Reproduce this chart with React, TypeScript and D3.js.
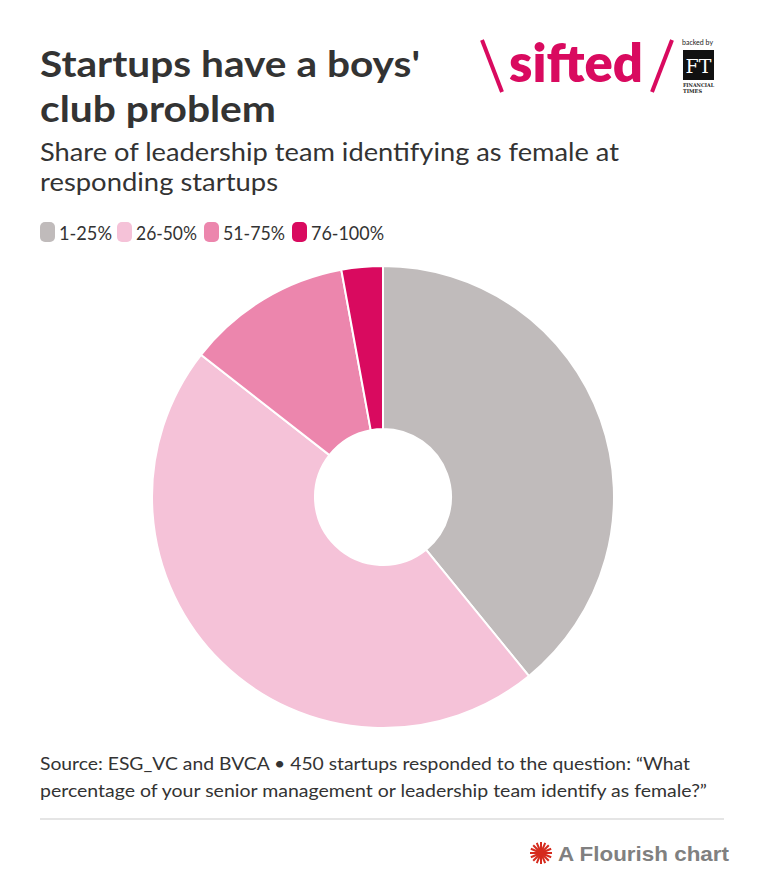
import React from "react";
import * as d3 from "d3";

const categories = ["1-25%", "26-50%", "51-75%", "76-100%"];
const values = [176, 209, 52, 13];
const colors = ["#c0bbbb", "#f5c2d8", "#ec86ad", "#d90a5f"];

const W = 764;
const H = 884;
const FONT = "Lato, 'Open Sans', sans-serif";

export default function App() {
  const cx = 383;
  const cy = 497;
  const outerR = 231;
  const innerR = 68;
  const pie = d3.pie<number>().sort(null).value((d) => d);
  const arcs = pie(values);
  const arcGen = d3
    .arc<d3.PieArcDatum<number>>()
    .innerRadius(innerR)
    .outerRadius(outerR);

  const legendItems = [
    { x: 40, tw: 53 },
    { x: 117, tw: 61 },
    { x: 204, tw: 62 },
    { x: 292, tw: 73 },
  ];

  return (
    <svg
      width={W}
      height={H}
      style={{ position: "absolute", left: 0, top: 0, background: "#fff" }}
      fontFamily={FONT}
    >
      <rect width={W} height={H} fill="#fff" />
      {/* Title */}
      <text x={40} y={77} fontSize={36} fontWeight={700} fill="#333" textLength={380} lengthAdjust="spacingAndGlyphs">
        Startups have a boys'
      </text>
      <text x={40} y={122} fontSize={36} fontWeight={700} fill="#333" textLength={236} lengthAdjust="spacingAndGlyphs">
        club problem
      </text>
      <text x={40} y={161} fontSize={25} fill="#333" textLength={579} lengthAdjust="spacingAndGlyphs">
        Share of leadership team identifying as female at
      </text>
      <text x={40} y={191} fontSize={25} fill="#333" textLength={238} lengthAdjust="spacingAndGlyphs">
        responding startups
      </text>

      {/* Logo */}
      <g>
        <line x1={482} y1={40} x2={502} y2={92} stroke="#d90a5f" strokeWidth={4} />
        <text x={509} y={82} fontSize={53} fontWeight={800} fill="#d90a5f" textLength={134} lengthAdjust="spacingAndGlyphs" fontFamily="Lato, sans-serif">
          sifted
        </text>
        <line x1={672} y1={40} x2={652} y2={92} stroke="#d90a5f" strokeWidth={4} />
        <text x={682} y={45} fontSize={8} fill="#222" textLength={31} lengthAdjust="spacingAndGlyphs">
          backed by
        </text>
        <rect x={683} y={50} width={31} height={30} fill="#111" />
        <text x={698.5} y={73} fontSize={19} fill="#fff" textAnchor="middle" fontFamily="'DejaVu Serif', serif">
          FT
        </text>
        <text x={683} y={87} fontSize={5} fontWeight={700} fill="#222" fontFamily="'DejaVu Serif', serif" textLength={31} lengthAdjust="spacingAndGlyphs">
          FINANCIAL
        </text>
        <text x={683} y={93} fontSize={5} fontWeight={700} fill="#222" fontFamily="'DejaVu Serif', serif">
          TIMES
        </text>
      </g>

      {/* Legend */}
      {categories.map((c, i) => (
        <g key={c} transform={`translate(${legendItems[i].x},222)`}>
          <rect x={0} y={0} width={15} height={20} rx={5} fill={colors[i]} />
          <text x={19} y={18} fontSize={19} fill="#333" textLength={legendItems[i].tw} lengthAdjust="spacingAndGlyphs">
            {c}
          </text>
        </g>
      ))}

      {/* Donut */}
      <g transform={`translate(${cx},${cy})`}>
        {arcs.map((a, i) => (
          <path key={i} d={arcGen(a) || ""} fill={colors[i]} stroke="#fff" strokeWidth={2} />
        ))}
      </g>

      {/* Footer */}
      <text x={40} y={770} fontSize={18} fill="#333" textLength={650} lengthAdjust="spacingAndGlyphs">
        Source: ESG_VC and BVCA • 450 startups responded to the question: “What
      </text>
      <text x={40} y={797} fontSize={18} fill="#333" textLength={667} lengthAdjust="spacingAndGlyphs">
        percentage of your senior management or leadership team identify as female?”
      </text>
      <line x1={40} y1={819} x2={724} y2={819} stroke="#dddddd" strokeWidth={1.5} />

      {/* Flourish */}
      <g transform="translate(541,853)">
        {d3.range(16).map((k) => {
          const ang = (k / 16) * Math.PI * 2;
          return (
            <line
              key={k}
              x1={0}
              y1={0}
              x2={Math.cos(ang) * 11}
              y2={Math.sin(ang) * 11}
              stroke="#d52b1e"
              strokeWidth={2}
            />
          );
        })}
        <circle r={4} fill="#d52b1e" />
      </g>
      <text x={558} y={861} fontSize={21} fontWeight={700} fill="#808080" fontFamily="'Liberation Sans', Arial, sans-serif" textLength={171} lengthAdjust="spacingAndGlyphs">
        A Flourish chart
      </text>
    </svg>
  );
}
